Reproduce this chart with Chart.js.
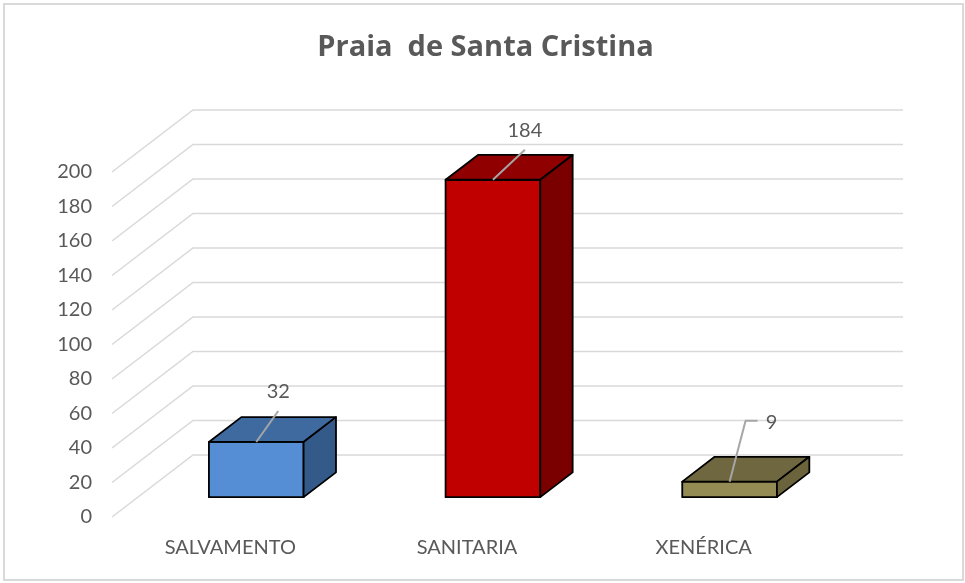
<!DOCTYPE html>
<html>
<head>
<meta charset="utf-8">
<title>Praia de Santa Cristina</title>
<script src="https://cdn.jsdelivr.net/npm/chart.js@4.4.1/dist/chart.umd.min.js"></script>
<style>
  html, body { margin: 0; padding: 0; background: #fff; }
  #wrap { position: relative; width: 965px; height: 583px; }
</style>
</head>
<body>
<div id="wrap"><canvas id="chart"></canvas></div>
<script>
// ---- data ----
const categories = ['SALVAMENTO', 'SANITARIA', 'XENÉRICA'];
const values = [32, 184, 9];
const yTicks = [0, 20, 40, 60, 80, 100, 120, 140, 160, 180, 200];
const chartTitle = 'Praia  de Santa Cristina';

// face colours for each bar
const frontColors = ['#558ED5', '#C00000', '#948A54'];
const topColors = ['#3F6AA0', '#900000', '#6E673F'];
const sideColors = ['#345A89', '#7A0000', '#6A633B'];

// fake 3D: depth of the back wall in px, and where the bars sit in that depth
const WALL_DX = 81;
const WALL_DY = -62;
const BAR_FRONT = 0.32;
const BAR_BACK = 0.72;

// value labels, offset from the top-front edge of each bar
const labelOffsets = [[22, -50], [32, -49], [42, -59]];
const labelElbow = [false, false, true];

const TEXT = '#595959';
const GRID = '#d9d9d9';

function poly(ctx, pts, fill) {
    ctx.beginPath();
    ctx.moveTo(pts[0][0], pts[0][1]);
    for (let i = 1; i < pts.length; i++) ctx.lineTo(pts[i][0], pts[i][1]);
    ctx.closePath();
    ctx.fillStyle = fill;
    ctx.fill();
    ctx.stroke();
}

const depthPlugin = {
    id: 'depth3d',
    beforeDraw(chart) {
        const ctx = chart.ctx;
        ctx.save();
        ctx.fillStyle = '#fff';
        ctx.fillRect(0, 0, chart.width, chart.height);
        ctx.strokeStyle = GRID;
        ctx.lineWidth = 2;
        ctx.strokeRect(4, 4, 959, 576);

        // title is centred on the whole canvas, not on the plot area
        ctx.fillStyle = TEXT;
        ctx.font = 'bold 29px "Open Sans"';
        ctx.textAlign = 'center';
        ctx.textBaseline = 'middle';
        ctx.fillText(chartTitle, chart.width / 2 + 3, 48);
        ctx.restore();
    },
    beforeDatasetsDraw(chart) {
        const { ctx, chartArea } = chart;
        const y = chart.scales.y;
        ctx.save();
        ctx.strokeStyle = GRID;
        ctx.lineWidth = 1.5;
        yTicks.forEach(v => {
            const py = y.getPixelForValue(v);
            ctx.beginPath();
            ctx.moveTo(chartArea.left, py);
            ctx.lineTo(chartArea.left + WALL_DX, py + WALL_DY);
            ctx.lineTo(chartArea.right + WALL_DX, py + WALL_DY);
            ctx.stroke();
        });
        ctx.restore();
    },
    afterDatasetsDraw(chart) {
        const ctx = chart.ctx;
        const meta = chart.getDatasetMeta(0);
        const fx = WALL_DX * BAR_FRONT, fy = WALL_DY * BAR_FRONT;
        const ddx = WALL_DX * (BAR_BACK - BAR_FRONT), ddy = WALL_DY * (BAR_BACK - BAR_FRONT);

        ctx.save();
        ctx.lineJoin = 'round';
        meta.data.forEach((bar, i) => {
            const p = bar.getProps(['x', 'y', 'base', 'width'], true);
            const l = p.x - p.width / 2 + fx, r = p.x + p.width / 2 + fx;
            const t = p.y + fy, b = p.base + fy;

            ctx.strokeStyle = '#000';
            ctx.lineWidth = 1.8;
            poly(ctx, [[l, t], [r, t], [r, b], [l, b]], frontColors[i]);
            poly(ctx, [[l, t], [l + ddx, t + ddy], [r + ddx, t + ddy], [r, t]], topColors[i]);
            poly(ctx, [[r, t], [r + ddx, t + ddy], [r + ddx, b + ddy], [r, b]], sideColors[i]);

            // leader line + value label
            const ax = p.x + fx, ay = t;
            const lx = ax + labelOffsets[i][0], ly = ay + labelOffsets[i][1];
            ctx.strokeStyle = '#a6a6a6';
            ctx.lineWidth = 2;
            ctx.beginPath();
            ctx.moveTo(ax, ay);
            if (labelElbow[i]) {
                ctx.lineTo(lx - 26, ly - 2);
                ctx.lineTo(lx - 14, ly - 2);
            } else {
                ctx.lineTo(lx, ly + 19);
            }
            ctx.stroke();

            ctx.fillStyle = TEXT;
            ctx.font = '20px Lato';
            ctx.textAlign = 'center';
            ctx.textBaseline = 'middle';
            ctx.fillText(String(values[i]), lx, ly);
        });
        ctx.restore();
    }
};

Chart.defaults.font.family = 'Lato';

new Chart(document.getElementById('chart'), {
    type: 'bar',
    data: {
        labels: categories,
        datasets: [{
            data: values,
            backgroundColor: 'rgba(0,0,0,0)',
            borderWidth: 0,
            categoryPercentage: 1,
            barPercentage: 0.4
        }]
    },
    options: {
        responsive: true,
        maintainAspectRatio: false,
        animation: false,
        layout: { padding: { left: 12, right: 143, top: 172, bottom: 0 } },
        plugins: {
            legend: { display: false },
            tooltip: { enabled: false },
            title: { display: false }
        },
        scales: {
            x: {
                grid: { display: false, drawTicks: false },
                border: { display: false },
                ticks: { color: TEXT, font: { size: 20 }, padding: 19, maxRotation: 0 },
                afterFit: s => { s.height = 66; }
            },
            y: {
                min: 0,
                max: 200,
                grid: { display: false, drawTicks: false },
                border: { display: false },
                ticks: { color: TEXT, font: { size: 20 }, padding: 20 },
                afterBuildTicks: s => { s.ticks = yTicks.map(v => ({ value: v })); },
                afterFit: s => { s.width = 100; }
            }
        }
    },
    plugins: [depthPlugin]
});
</script>
</body>
</html>
